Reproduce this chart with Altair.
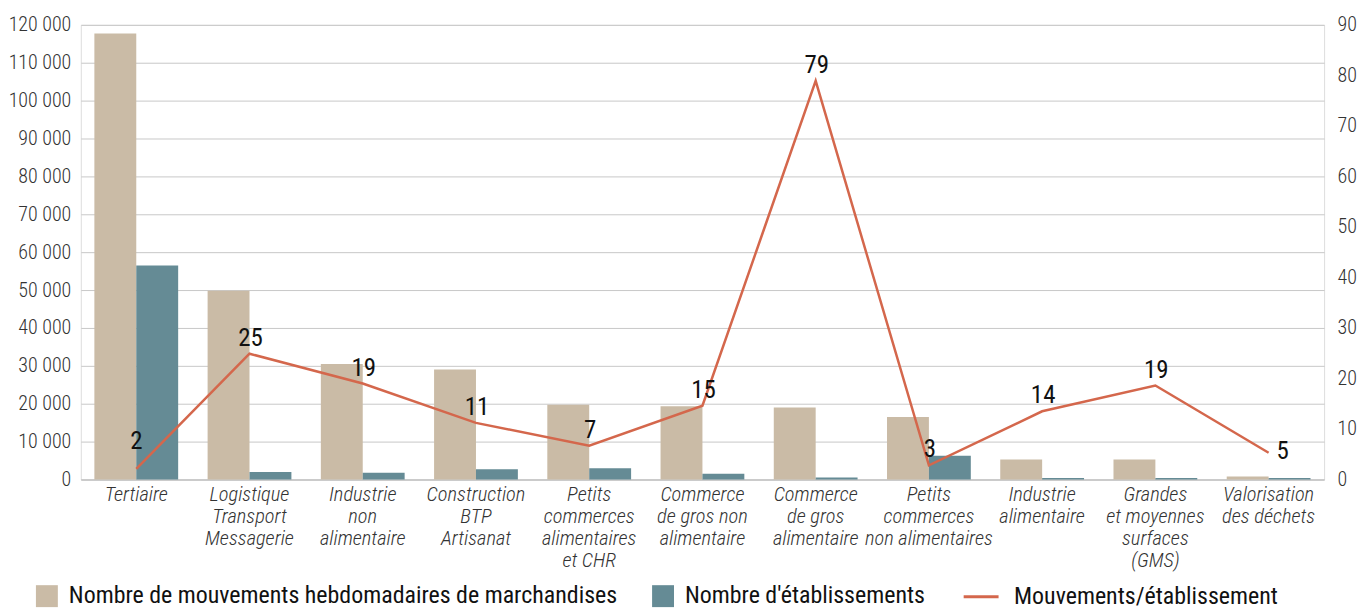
import altair as alt
import pandas as pd

categories = [
    "Tertiaire",
    "Logistique|Transport|Messagerie",
    "Industrie|non|alimentaire",
    "Construction|BTP|Artisanat",
    "Petits|commerces|alimentaires|et CHR",
    "Commerce|de gros non|alimentaire",
    "Commerce|de gros|alimentaire",
    "Petits|commerces|non alimentaires",
    "Industrie|alimentaire",
    "Grandes|et moyennes|surfaces|(GMS)",
    "Valorisation|des déchets",
]
mouvements = [117700, 49800, 30500, 29000, 19700, 19300, 19000, 16500, 5300, 5300, 800]
etablissements = [56500, 2000, 1800, 2700, 3000, 1500, 500, 6300, 400, 400, 400]
ratio = [2.1, 24.9, 19.0, 11.2, 6.7, 14.6, 78.9, 2.8, 13.5, 18.6, 5.3]

S1 = "Nombre de mouvements hebdomadaires de marchandises"
S2 = "Nombre d'établissements"
S3 = "Mouvements/établissement"

bars = pd.DataFrame(
    [{"cat": c, "series": S1, "value": v} for c, v in zip(categories, mouvements)]
    + [{"cat": c, "series": S2, "value": v} for c, v in zip(categories, etablissements)]
)
line = pd.DataFrame({"cat": categories, "ratio": ratio, "series": S3})

FONT = "Roboto Condensed, Liberation Sans Narrow, DejaVu Sans Condensed, Roboto, sans-serif"

xenc = alt.X(
    "cat:N",
    sort=categories,
    title=None,
    scale=alt.Scale(paddingInner=0.26, paddingOuter=0.12),
    axis=alt.Axis(
        labelExpr="split(datum.label, '|')",
        labelAngle=0,
        labelFontStyle="italic",
        labelFontSize=20.5,
        labelLineHeight=22,
        labelColor="#333333",
        labelPadding=5,
        ticks=False,
        domainColor="#bdbdbd",
        labelFont=FONT,
        labelFontWeight=300,
        labelLimit=200,
    ),
)

bar_layer = alt.Chart(bars).mark_bar().encode(
    x=xenc,
    xOffset=alt.XOffset("series:N", sort=[S1, S2]),
    y=alt.Y(
        "value:Q",
        title=None,
        scale=alt.Scale(domain=[0, 120000], nice=False),
        axis=alt.Axis(
            values=list(range(0, 120001, 10000)),
            labelExpr="replace(format(datum.value, ','), ',', ' ')",
            ticks=False,
            domain=False,
            gridColor="#c8c8c8",
            labelFontSize=20,
            labelColor="#333333",
            labelPadding=10,
            labelFont=FONT,
            labelFontWeight=300,
        ),
    ),
    color=alt.Color(
        "series:N",
        sort=[S1, S2],
        scale=alt.Scale(domain=[S1, S2], range=["#CABBA6", "#658B95"]),
        legend=alt.Legend(
            title=None,
            orient="none",
            legendX=-46,
            legendY=561,
            direction="horizontal",
            symbolType="square",
            symbolSize=484,
            symbolStrokeWidth=0,
            labelFontSize=24,
            labelColor="#111111",
            labelFont=FONT,
            labelOffset=10,
            columnPadding=33,
            labelLimit=700,
            padding=0,
        ),
    ),
)

yr = alt.Y(
    "ratio:Q",
    title=None,
    scale=alt.Scale(domain=[0, 90], nice=False),
    axis=alt.Axis(
        orient="right",
        values=list(range(0, 91, 10)),
        grid=False,
        ticks=False,
        domain=False,
        labelFontSize=20,
        labelColor="#333333",
        labelPadding=13,
        labelFont=FONT,
        labelFontWeight=300,
    ),
)

line_layer = alt.Chart(line).mark_line(strokeWidth=2.5).encode(
    x=alt.X("cat:N", sort=categories),
    y=yr,
    stroke=alt.Stroke(
        "series:N",
        scale=alt.Scale(domain=[S3], range=["#D4674C"]),
        legend=alt.Legend(
            title=None,
            orient="none",
            legendX=884,
            legendY=554.5,
            symbolType="stroke",
            symbolSize=1225,
            symbolStrokeWidth=3,
            labelFontSize=24,
            labelColor="#111111",
            labelFont=FONT,
            labelOffset=14,
            labelLimit=500,
            padding=0,
        ),
    ),
)

first_cat = categories[0]
last_cat = categories[-1]

def labels(dx, dy, flt):
    return (
        alt.Chart(line)
        .transform_filter(flt)
        .mark_text(dx=dx, dy=dy, fontSize=25, color="#111111", font=FONT)
        .encode(
            x=alt.X("cat:N", sort=categories),
            y=yr,
            text=alt.Text("ratio:Q", format=".0f"),
        )
    )

text_mid = labels(1, -16, f"datum.cat != '{first_cat}' && datum.cat != '{last_cat}'")
text_first = labels(0, -28, f"datum.cat == '{first_cat}'")
text_last = labels(14, -2, f"datum.cat == '{last_cat}'")

right = alt.layer(line_layer, text_mid, text_first, text_last)

chart = (
    alt.layer(bar_layer, right)
    .resolve_scale(y="independent", color="independent", stroke="independent")
    .properties(width=1247, height=456, padding={"left": 0, "top": 6, "right": 0, "bottom": 0})
    .configure_view(stroke=None)
    .configure(font=FONT)
)

chart.save("out.html", embed_options={"renderer": "svg", "actions": False})
